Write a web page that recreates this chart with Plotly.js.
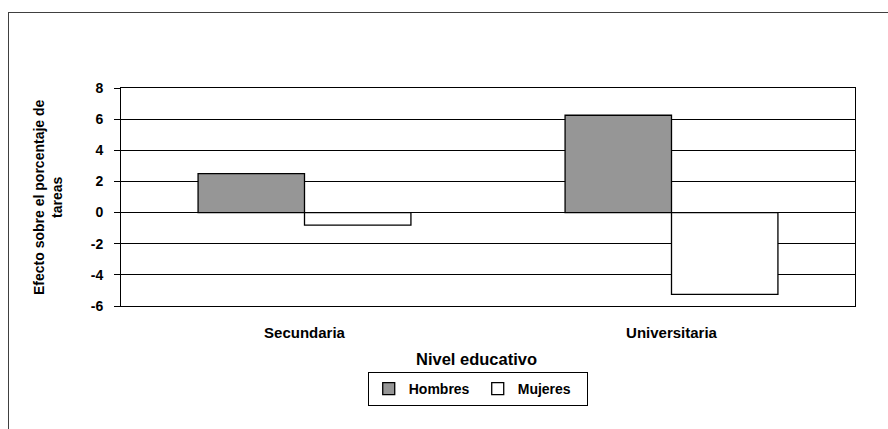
<!DOCTYPE html>
<html>
<head>
<meta charset="utf-8">
<script src="https://cdn.plot.ly/plotly-3.0.1.min.js"></script>
<style>
  html, body { margin: 0; padding: 0; background: #ffffff; }
  #wrap { position: relative; width: 888px; height: 429px; overflow: hidden; }
  #frame { position: absolute; left: 8px; top: 12px; width: 1000px; height: 600px;
           border: 1px solid #404040; pointer-events: none; }
  #chart { position: absolute; left: 0; top: 0; width: 888px; height: 429px; }
</style>
</head>
<body>
<div id="wrap">
  <div id="frame"></div>
  <div id="chart"></div>
</div>
<script>
const categories = ['Secundaria', 'Universitaria'];
const hombres = [2.5, 6.25];
const mujeres = [-0.8, -5.25];
const seriesNames = ['Hombres', 'Mujeres'];
const yTickVals = [-6, -4, -2, 0, 2, 4, 6, 8];
const yTickLabels = ['-6', '-4', '-2', '0', '2', '4', '6', '8'];
const yTitle = 'Efecto sobre el porcentaje de<br>tareas';
const xTitle = 'Nivel educativo';

const FONT = "Arial, 'Liberation Sans', sans-serif";

const traces = [
  {
    type: 'bar', name: seriesNames[0], x: categories, y: hombres,
    marker: { color: '#969696', line: { color: '#000000', width: 1.3 } }
  },
  {
    type: 'bar', name: seriesNames[1], x: categories, y: mujeres,
    marker: { color: '#ffffff', line: { color: '#000000', width: 1.3 } }
  }
];

const layout = {
  width: 888, height: 429,
  margin: { l: 121, r: 33, t: 88, b: 123 },
  paper_bgcolor: 'rgba(0,0,0,0)',
  plot_bgcolor: '#ffffff',
  font: { family: FONT, color: '#000000', size: 13, weight: 'bold' },
  barmode: 'group',
  bargap: 0.42,
  bargroupgap: 0,
  showlegend: true,
  legend: {
    orientation: 'h', x: 0.486, xanchor: 'center', y: -0.303, yanchor: 'top',
    bordercolor: '#000000', borderwidth: 1, bgcolor: '#ffffff',
    font: { family: FONT, size: 14, weight: 'bold', color: '#000000' },
    entrywidth: 64, itemwidth: 30, traceorder: 'normal'
  },
  xaxis: {
    type: 'category', range: [-0.5, 1.5],
    showline: true, mirror: true, linecolor: '#000000', linewidth: 1,
    ticks: '', showgrid: false, zeroline: false,
    tickfont: { family: FONT, size: 15, weight: 'bold', color: '#000000' },
    ticklabelstandoff: 13
  },
  xaxis2: {
    overlaying: 'x', anchor: 'free', position: 6 / 14,
    type: 'linear', range: [-0.5, 1.5],
    tickmode: 'array', tickvals: [0.5], ticks: 'outside', ticklen: 5, tickwidth: 1.5, tickcolor: '#000000',
    showticklabels: false, showgrid: false, zeroline: false,
    showline: true, linecolor: '#000000', linewidth: 2
  },
  yaxis: {
    range: [-6, 8], tickmode: 'array', tickvals: yTickVals, ticktext: yTickLabels,
    showline: true, mirror: true, linecolor: '#000000', linewidth: 1,
    ticks: 'outside', ticklen: 6, tickcolor: '#000000',
    showgrid: true, gridcolor: '#000000', gridwidth: 1,
    zeroline: false,
    tickfont: { family: FONT, size: 14, weight: 'bold', color: '#000000' },
    ticklabelstandoff: 8
  },
  annotations: [
    {
      text: xTitle, xref: 'paper', yref: 'paper', x: 0.484, y: -0.243,
      xanchor: 'center', yanchor: 'middle', showarrow: false,
      font: { family: FONT, size: 16.5, weight: 'bold', color: '#000000' }
    },
    {
      text: yTitle, xref: 'paper', yref: 'paper', x: -0.0995, y: 0.5,
      xanchor: 'center', yanchor: 'middle', showarrow: false, textangle: -90,
      font: { family: FONT, size: 14, weight: 'bold', color: '#000000' }
    }
  ]
};

Plotly.newPlot('chart', traces, layout, { displayModeBar: false, staticPlot: true });
</script>
</body>
</html>
